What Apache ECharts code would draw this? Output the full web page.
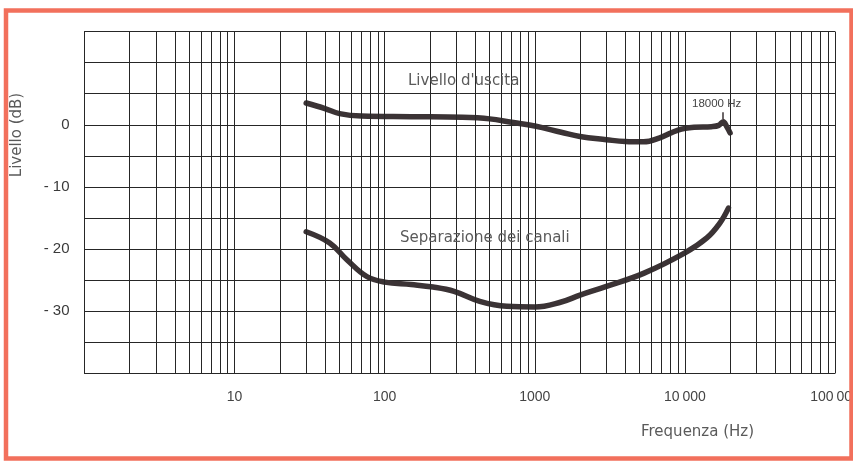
<!DOCTYPE html>
<html>
<head>
<meta charset="utf-8">
<script src="https://cdn.jsdelivr.net/npm/echarts@6/dist/echarts.min.js"></script>
<style>
  html, body { margin: 0; padding: 0; background: #ffffff; }
  #chart { width: 853px; height: 463px; }
</style>
</head>
<body>
<div id="chart"></div>
<script>
// Frequency response of the output level and channel separation (log frequency axis)
var outputLevel = [
  [30, 3.5], [40, 2.6], [50, 1.8], [70, 1.4], [150, 1.3], [330, 1.2], [500, 0.95],
  [700, 0.4], [1000, -0.2], [1500, -1.2], [2000, -1.9], [3000, -2.4], [4000, -2.7],
  [5300, -2.75], [6800, -2.1], [9000, -0.85], [11500, -0.4], [15000, -0.3],
  [16800, -0.1], [18000, 0.5], [19000, -0.3], [20000, -1.3]
];
var channelSeparation = [
  [30, -17.2], [43, -19.0], [56, -21.7], [76, -24.4], [100, -25.3], [150, -25.7],
  [210, -26.1], [290, -26.8], [430, -28.4], [650, -29.2], [1000, -29.3], [1500, -28.5],
  [2000, -27.4], [3000, -26.0], [5300, -23.9], [10000, -20.6], [14000, -18.2],
  [17000, -15.9], [19500, -13.4]
];
var markerFreq = 18000;
var markerSpan = [0.9, 2.0];

var xTickLabels = { 10: '10', 100: '100', 1000: '1000', 10000: '10\u2009000', 100000: '100\u2009000' };
var yTickLabels = { 0: '0', '-10': '- 10', '-20': '- 20', '-30': '- 30' };

var seriesNames = ["Livello d'uscita", 'Separazione dei canali'];
var markerText = '18000 Hz';
var xTitle = 'Frequenza (Hz)';
var yTitle = 'Livello (dB)';

// vertical log-paper rulings: 1..9 in every decade
var rulings = [];
for (var k = 0; k < 5; k++) {
  for (var m = 1; m <= 9; m++) rulings.push(m * Math.pow(10, k));
}
rulings.push(100000);

var ink = '#262626';
var curveInk = '#3b3335';
var textInk = '#5a5a5a';

var chart = echarts.init(document.getElementById('chart'), null, { renderer: 'canvas' });
chart.setOption({
  backgroundColor: '#ffffff',
  animation: false,
  grid: { left: 84.5, top: 31.5, right: 18, bottom: 89.5, containLabel: false, outerBoundsMode: 'none' },
  xAxis: {
    type: 'log', logBase: 10, min: 1, max: 100000,
    axisLine: { show: true, lineStyle: { color: ink, width: 1 } },
    axisTick: { show: false },
    splitLine: { show: false },
    minorTick: { show: false },
    axisLabel: {
      margin: 17, fontSize: 14, color: '#444', fontFamily: 'Liberation Sans',
      formatter: function (v) { return xTickLabels[Math.round(v)] || ''; }
    }
  },
  yAxis: {
    type: 'value', min: -40, max: 15, interval: 5,
    axisLine: { show: true, lineStyle: { color: ink, width: 1 } },
    axisTick: { show: false },
    splitLine: { show: true, lineStyle: { color: ink, width: 1 } },
    axisLabel: {
      margin: 15, fontSize: 15, color: '#3a3a3a', fontFamily: 'Liberation Sans',
      formatter: function (v) { return yTickLabels[String(v)] || ''; }
    }
  },
  series: [
    {
      type: 'line', data: [], silent: true, z: 1,
      markLine: {
        silent: true, symbol: ['none', 'none'], animation: false,
        label: { show: false },
        lineStyle: { type: 'solid', color: ink, width: 1 },
        data: rulings.map(function (f) { return { xAxis: f }; })
      }
    },
    {
      name: seriesNames[0], type: 'line', data: outputLevel, smooth: 0.4,
      showSymbol: false, z: 3,
      lineStyle: { color: curveInk, width: 5.5, cap: 'round', join: 'round' },
      markLine: {
        silent: true, symbol: ['none', 'none'], animation: false,
        label: { show: false },
        lineStyle: { type: 'solid', color: curveInk, width: 1.5 },
        data: [[{ coord: [markerFreq, markerSpan[0]] }, { coord: [markerFreq, markerSpan[1]] }]]
      }
    },
    {
      name: seriesNames[1], type: 'line', data: channelSeparation, smooth: 0.4,
      showSymbol: false, z: 3,
      lineStyle: { color: curveInk, width: 5.5, cap: 'round', join: 'round' }
    }
  ],
  graphic: [
    { type: 'text', left: 408, top: 74, z: 10,
      style: { text: seriesNames[0], fill: textInk, font: '15px "DejaVu Sans"' } },
    { type: 'text', left: 400, top: 231, z: 10,
      style: { text: seriesNames[1], fill: textInk, font: '15px "DejaVu Sans"' } },
    { type: 'text', left: 692, top: 98, z: 10,
      style: { text: markerText, fill: '#444', font: '11.5px "Liberation Sans"' } },
    { type: 'text', left: 641, top: 425, z: 10,
      style: { text: xTitle, fill: textInk, font: '15px "DejaVu Sans"' } },
    { type: 'text', x: 17, y: 135, rotation: Math.PI / 2, z: 10,
      style: { text: yTitle, fill: textInk, font: '15px "DejaVu Sans"', align: 'center', verticalAlign: 'middle' } },
    { type: 'rect', z: 20, silent: true,
      shape: { x: 6, y: 10.5, width: 845.5, height: 448 },
      style: { fill: 'none', stroke: '#f2705c', lineWidth: 4.5 } }
  ]
});
</script>
</body>
</html>
